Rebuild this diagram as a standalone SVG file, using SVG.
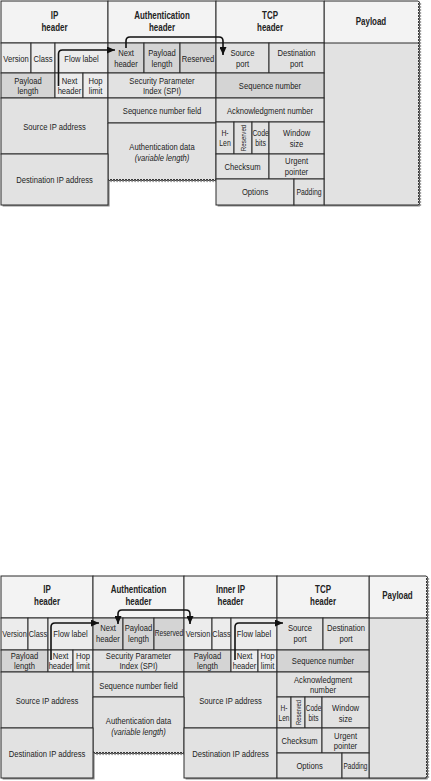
<svg xmlns="http://www.w3.org/2000/svg" xmlns:xlink="http://www.w3.org/1999/xlink" width="431" height="781" viewBox="0 0 431 781">
<style>
.t{font-family:"Liberation Sans",Arial,sans-serif;font-size:9.8px;fill:#222;text-anchor:middle;transform-box:fill-box;transform-origin:center;transform:scaleX(0.78)}
.tr{font-family:"Liberation Sans",Arial,sans-serif;fill:#222;text-anchor:middle}
.b{font-weight:bold;font-size:10.2px}
.s{font-size:8.8px}
.i{font-style:italic}
rect,.cp{stroke:#2b2b2b;stroke-width:1}
.h{fill:#f3f3f3}.c{fill:#e2e2e2}.d{fill:#d4d4d4}.l{fill:#ececec}
.ar{fill:none;stroke:#111;stroke-width:1.6}
.sh{fill:#8c8c8c}
</style>
<defs>
<marker id="ah" viewBox="0 0 8 7" refX="8" refY="3.5" markerWidth="8" markerHeight="7" markerUnits="userSpaceOnUse" orient="auto-start-reverse"><path d="M0,0 L8,3.5 L0,7 z" fill="#111"/></marker>
<linearGradient id="gp1" gradientUnits="userSpaceOnUse" x1="0" y1="1" x2="0" y2="205"><stop offset="0" stop-color="#f3f3f3"/><stop offset="0.2059" stop-color="#f3f3f3"/><stop offset="0.2059" stop-color="#e2e2e2"/><stop offset="1" stop-color="#e2e2e2"/></linearGradient>
<linearGradient id="gp2" gradientUnits="userSpaceOnUse" x1="0" y1="576" x2="0" y2="778"><stop offset="0" stop-color="#f3f3f3"/><stop offset="0.2079" stop-color="#f3f3f3"/><stop offset="0.2079" stop-color="#e2e2e2"/><stop offset="1" stop-color="#e2e2e2"/></linearGradient>
<path id="out1" d="M1,1 H418 l2,1.5l-2,1.5l2,1.5l-2,1.5l2,1.5l-2,1.5l2,1.5l-2,1.5l2,1.5l-2,1.5l2,1.5l-2,1.5l2,1.5l-2,1.5l2,1.5l-2,1.5l2,1.5l-2,1.5l2,1.5l-2,1.5 l2,1.5l-2,1.5l2,1.5l-2,1.5l2,1.5l-2,1.5l2,1.5l-2,1.5l2,1.5l-2,1.5l2,1.5l-2,1.5l2,1.5l-2,1.5l2,1.5l-2,1.5l2,1.5l-2,1.5l2,1.5l-2,1.5 l2,1.5l-2,1.5l2,1.5l-2,1.5l2,1.5l-2,1.5l2,1.5l-2,1.5l2,1.5l-2,1.5l2,1.5l-2,1.5l2,1.5l-2,1.5l2,1.5l-2,1.5l2,1.5l-2,1.5l2,1.5l-2,1.5 l2,1.5l-2,1.5l2,1.5l-2,1.5l2,1.5l-2,1.5l2,1.5l-2,1.5l2,1.5l-2,1.5l2,1.5l-2,1.5l2,1.5l-2,1.5l2,1.5l-2,1.5l2,1.5l-2,1.5l2,1.5l-2,1.5 l2,1.5l-2,1.5l2,1.5l-2,1.5l2,1.5l-2,1.5l2,1.5l-2,1.5l2,1.5l-2,1.5l2,1.5l-2,1.5l2,1.5l-2,1.5l2,1.5l-2,1.5l2,1.5l-2,1.5l2,1.5l-2,1.5 l2,1.5l-2,1.5l2,1.5l-2,1.5l2,1.5l-2,1.5l2,1.5l-2,1.5l2,1.5l-2,1.5l2,1.5l-2,1.5l2,1.5l-2,1.5l2,1.5l-2,1.5l2,1.5l-2,1.5l2,1.5l-2,1.5 l2,1.5l-2,1.5l2,1.5l-2,1.5l2,1.5l-2,1.5l2,1.5l-2,1.5l2,1.5l-2,1.5l2,1.5l-2,1.5l2,1.5l-2,1.5l2,1.5l-2,1.5 V205 H216 V179 l-1.5,2l-1.5,-2l-1.5,2l-1.5,-2l-1.5,2l-1.5,-2l-1.5,2l-1.5,-2l-1.5,2l-1.5,-2l-1.5,2l-1.5,-2l-1.5,2l-1.5,-2l-1.5,2l-1.5,-2l-1.5,2l-1.5,-2l-1.5,2l-1.5,-2 l-1.5,2l-1.5,-2l-1.5,2l-1.5,-2l-1.5,2l-1.5,-2l-1.5,2l-1.5,-2l-1.5,2l-1.5,-2l-1.5,2l-1.5,-2l-1.5,2l-1.5,-2l-1.5,2l-1.5,-2l-1.5,2l-1.5,-2l-1.5,2l-1.5,-2 l-1.5,2l-1.5,-2l-1.5,2l-1.5,-2l-1.5,2l-1.5,-2l-1.5,2l-1.5,-2l-1.5,2l-1.5,-2l-1.5,2l-1.5,-2l-1.5,2l-1.5,-2l-1.5,2l-1.5,-2l-1.5,2l-1.5,-2l-1.5,2l-1.5,-2 l-1.5,2l-1.5,-2l-1.5,2l-1.5,-2l-1.5,2l-1.5,-2l-1.5,2l-1.5,-2l-1.5,2l-1.5,-2l-1.5,2l-1.5,-2 H108 V205 H1 Z"/>
<path id="out2" d="M1,576 H426 l2,1.5l-2,1.5l2,1.5l-2,1.5l2,1.5l-2,1.5l2,1.5l-2,1.5l2,1.5l-2,1.5l2,1.5l-2,1.5l2,1.5l-2,1.5l2,1.5l-2,1.5l2,1.5l-2,1.5l2,1.5l-2,1.5 l2,1.5l-2,1.5l2,1.5l-2,1.5l2,1.5l-2,1.5l2,1.5l-2,1.5l2,1.5l-2,1.5l2,1.5l-2,1.5l2,1.5l-2,1.5l2,1.5l-2,1.5l2,1.5l-2,1.5l2,1.5l-2,1.5 l2,1.5l-2,1.5l2,1.5l-2,1.5l2,1.5l-2,1.5l2,1.5l-2,1.5l2,1.5l-2,1.5l2,1.5l-2,1.5l2,1.5l-2,1.5l2,1.5l-2,1.5l2,1.5l-2,1.5l2,1.5l-2,1.5 l2,1.5l-2,1.5l2,1.5l-2,1.5l2,1.5l-2,1.5l2,1.5l-2,1.5l2,1.5l-2,1.5l2,1.5l-2,1.5l2,1.5l-2,1.5l2,1.5l-2,1.5l2,1.5l-2,1.5l2,1.5l-2,1.5 l2,1.5l-2,1.5l2,1.5l-2,1.5l2,1.5l-2,1.5l2,1.5l-2,1.5l2,1.5l-2,1.5l2,1.5l-2,1.5l2,1.5l-2,1.5l2,1.5l-2,1.5l2,1.5l-2,1.5l2,1.5l-2,1.5 l2,1.5l-2,1.5l2,1.5l-2,1.5l2,1.5l-2,1.5l2,1.5l-2,1.5l2,1.5l-2,1.5l2,1.5l-2,1.5l2,1.5l-2,1.5l2,1.5l-2,1.5l2,1.5l-2,1.5l2,1.5l-2,1.5 l2,1.5l-2,1.5l2,1.5l-2,1.5l2,1.5l-2,1.5l2,1.5l-2,1.5l2,1.5l-2,1.5l2,1.5l-2,1.5l2,1.5l-2,1.5 V778 H184 V752 l-1.5,2l-1.5,-2l-1.5,2l-1.5,-2l-1.5,2l-1.5,-2l-1.5,2l-1.5,-2l-1.5,2l-1.5,-2l-1.5,2l-1.5,-2l-1.5,2l-1.5,-2l-1.5,2l-1.5,-2l-1.5,2l-1.5,-2l-1.5,2l-1.5,-2 l-1.5,2l-1.5,-2l-1.5,2l-1.5,-2l-1.5,2l-1.5,-2l-1.5,2l-1.5,-2l-1.5,2l-1.5,-2l-1.5,2l-1.5,-2l-1.5,2l-1.5,-2l-1.5,2l-1.5,-2l-1.5,2l-1.5,-2l-1.5,2l-1.5,-2 l-1.5,2l-1.5,-2l-1.5,2l-1.5,-2l-1.5,2l-1.5,-2l-1.5,2l-1.5,-2l-1.5,2l-1.5,-2l-1.5,2l-1.5,-2l-1.5,2l-1.5,-2l-1.5,2l-1.5,-2l-1.5,2l-1.5,-2l-1.5,2l-1.5,-2 H93 V778 H1 Z"/>
</defs>

<!-- ===== Transport mode (top) ===== -->
<use xlink:href="#out1" href="#out1" class="sh" transform="translate(1.6,1.6)"/>
<g id="t-payload"><path class="cp" fill="url(#gp1)" d="M324,1 H418 l2,1.5l-2,1.5l2,1.5l-2,1.5l2,1.5l-2,1.5l2,1.5l-2,1.5l2,1.5l-2,1.5l2,1.5l-2,1.5l2,1.5l-2,1.5l2,1.5l-2,1.5l2,1.5l-2,1.5l2,1.5l-2,1.5 l2,1.5l-2,1.5l2,1.5l-2,1.5l2,1.5l-2,1.5l2,1.5l-2,1.5l2,1.5l-2,1.5l2,1.5l-2,1.5l2,1.5l-2,1.5l2,1.5l-2,1.5l2,1.5l-2,1.5l2,1.5l-2,1.5 l2,1.5l-2,1.5l2,1.5l-2,1.5l2,1.5l-2,1.5l2,1.5l-2,1.5l2,1.5l-2,1.5l2,1.5l-2,1.5l2,1.5l-2,1.5l2,1.5l-2,1.5l2,1.5l-2,1.5l2,1.5l-2,1.5 l2,1.5l-2,1.5l2,1.5l-2,1.5l2,1.5l-2,1.5l2,1.5l-2,1.5l2,1.5l-2,1.5l2,1.5l-2,1.5l2,1.5l-2,1.5l2,1.5l-2,1.5l2,1.5l-2,1.5l2,1.5l-2,1.5 l2,1.5l-2,1.5l2,1.5l-2,1.5l2,1.5l-2,1.5l2,1.5l-2,1.5l2,1.5l-2,1.5l2,1.5l-2,1.5l2,1.5l-2,1.5l2,1.5l-2,1.5l2,1.5l-2,1.5l2,1.5l-2,1.5 l2,1.5l-2,1.5l2,1.5l-2,1.5l2,1.5l-2,1.5l2,1.5l-2,1.5l2,1.5l-2,1.5l2,1.5l-2,1.5l2,1.5l-2,1.5l2,1.5l-2,1.5l2,1.5l-2,1.5l2,1.5l-2,1.5 l2,1.5l-2,1.5l2,1.5l-2,1.5l2,1.5l-2,1.5l2,1.5l-2,1.5l2,1.5l-2,1.5l2,1.5l-2,1.5l2,1.5l-2,1.5l2,1.5l-2,1.5 V205 H324 Z"/><line class="cp" x1="324" y1="43" x2="419" y2="43"/><text class="t b" x="371" y="25.5">Payload</text></g>
<g id="t-ip-hdr"><rect class="h" x="1" y="1" width="107" height="42"/><text class="t b" x="54.5" y="19">IP</text><text class="t b" x="54.5" y="31">header</text></g>
<g id="t-ah-hdr"><rect class="h" x="108" y="1" width="108" height="42"/><text class="t b" x="162" y="19">Authentication</text><text class="t b" x="162" y="31">header</text></g>
<g id="t-tcp-hdr"><rect class="h" x="216" y="1" width="108" height="42"/><text class="t b" x="270" y="19">TCP</text><text class="t b" x="270" y="31">header</text></g>

<g id="t-version"><rect class="l" x="1" y="43" width="30" height="30"/><text class="t" x="16" y="62">Version</text></g>
<g id="t-class"><rect class="l" x="31" y="43" width="24" height="30"/><text class="t" x="43" y="62">Class</text></g>
<g id="t-flow"><rect class="l" x="55" y="43" width="53" height="30"/><text class="t" x="81.5" y="62">Flow label</text></g>
<g id="t-ah-next"><rect class="d" x="108" y="43" width="36" height="30"/><text class="t" x="126" y="56.5">Next</text><text class="t" x="126" y="67.5">header</text></g>
<g id="t-ah-plen"><rect class="d" x="144" y="43" width="36" height="30"/><text class="t" x="162" y="56.5">Payload</text><text class="t" x="162" y="67.5">length</text></g>
<g id="t-ah-res"><rect class="d" x="180" y="43" width="36" height="30"/><text class="t" x="198" y="62">Reserved</text></g>
<g id="t-sport"><rect class="c" x="216" y="43" width="53" height="30"/><text class="t" x="242.5" y="56.5">Source</text><text class="t" x="242.5" y="67.5">port</text></g>
<g id="t-dport"><rect class="c" x="269" y="43" width="55" height="30"/><text class="t" x="296.5" y="56.5">Destination</text><text class="t" x="296.5" y="67.5">port</text></g>

<g id="t-ip-plen"><rect class="d" x="1" y="73" width="54" height="25"/><text class="t" x="28" y="84.5">Payload</text><text class="t" x="28" y="94.5">length</text></g>
<g id="t-ip-next"><rect class="l" x="55" y="73" width="28" height="25"/><text class="t" x="69.5" y="84.5">Next</text><text class="t" x="69.5" y="94.5">header</text></g>
<g id="t-hop"><rect class="l" x="83" y="73" width="25" height="25"/><text class="t" x="95.5" y="84.5">Hop</text><text class="t" x="95.5" y="94.5">limit</text></g>
<g id="t-spi"><rect class="c" x="108" y="73" width="108" height="25"/><text class="t" x="162" y="84.5">Security Parameter</text><text class="t" x="162" y="94.5">Index (SPI)</text></g>
<g id="t-seq"><rect class="d" x="216" y="73" width="108" height="25"/><text class="t" x="270" y="89">Sequence number</text></g>

<g id="t-src"><rect class="c" x="1" y="98" width="107" height="56"/><text class="t" x="54.5" y="130">Source IP address</text></g>
<g id="t-seqf"><rect class="c" x="108" y="98" width="108" height="25"/><text class="t" x="162" y="114">Sequence number field</text></g>
<g id="t-ack"><rect class="c" x="216" y="98" width="108" height="24"/><text class="t" x="270" y="114">Acknowledgment number</text></g>
<g id="t-authdata"><path class="cp c" d="M108,123 H216 V179 l-1.5,2l-1.5,-2l-1.5,2l-1.5,-2l-1.5,2l-1.5,-2l-1.5,2l-1.5,-2l-1.5,2l-1.5,-2l-1.5,2l-1.5,-2l-1.5,2l-1.5,-2l-1.5,2l-1.5,-2l-1.5,2l-1.5,-2l-1.5,2l-1.5,-2 l-1.5,2l-1.5,-2l-1.5,2l-1.5,-2l-1.5,2l-1.5,-2l-1.5,2l-1.5,-2l-1.5,2l-1.5,-2l-1.5,2l-1.5,-2l-1.5,2l-1.5,-2l-1.5,2l-1.5,-2l-1.5,2l-1.5,-2l-1.5,2l-1.5,-2 l-1.5,2l-1.5,-2l-1.5,2l-1.5,-2l-1.5,2l-1.5,-2l-1.5,2l-1.5,-2l-1.5,2l-1.5,-2l-1.5,2l-1.5,-2l-1.5,2l-1.5,-2l-1.5,2l-1.5,-2l-1.5,2l-1.5,-2l-1.5,2l-1.5,-2 l-1.5,2l-1.5,-2l-1.5,2l-1.5,-2l-1.5,2l-1.5,-2l-1.5,2l-1.5,-2l-1.5,2l-1.5,-2l-1.5,2l-1.5,-2 H108 Z"/><text class="t" x="162" y="150.5">Authentication data</text><text class="t i" x="162" y="161.5">(variable length)</text></g>
<g id="t-hlen"><rect class="c" x="216" y="122" width="18" height="32"/><text class="t s" x="225" y="136.5">H-</text><text class="t s" x="225" y="146.5">Len</text></g>
<g id="t-tres"><rect class="c" x="234" y="122" width="18" height="32"/><text class="tr" style="font-size:8px" transform="translate(245.7,138) rotate(-90) scale(0.78,1)">Reserved</text></g>
<g id="t-code"><rect class="c" x="252" y="122" width="17" height="32"/><text class="t s" x="260.5" y="136.5">Code</text><text class="t s" x="260.5" y="146.5">bits</text></g>
<g id="t-win"><rect class="c" x="269" y="122" width="55" height="32"/><text class="t" x="296.5" y="136.5">Window</text><text class="t" x="296.5" y="147">size</text></g>
<g id="t-dst"><rect class="c" x="1" y="154" width="107" height="51"/><text class="t" x="54.5" y="183.5">Destination IP address</text></g>
<g id="t-csum"><rect class="c" x="216" y="154" width="53" height="25"/><text class="t" x="242.5" y="170">Checksum</text></g>
<g id="t-urg"><rect class="c" x="269" y="154" width="55" height="25"/><text class="t" x="296.5" y="164.5">Urgent</text><text class="t" x="296.5" y="175">pointer</text></g>
<g id="t-opt"><rect class="c" x="216" y="179" width="78" height="26"/><text class="t" x="255" y="195.5">Options</text></g>
<g id="t-pad"><rect class="c" x="294" y="179" width="30" height="26"/><text class="t s" x="309" y="195.5">Padding</text></g>

<g id="t-connectors">
<path class="ar" marker-end="url(#ah)" d="M58.5,86 V54 Q58.5,50 62.5,50 H115"/>
<path class="ar" marker-end="url(#ah)" d="M126,48 V41 Q126,37 130,37 H219 Q223,37 223,41 V55"/>
</g>

<!-- ===== Tunnel mode (bottom) ===== -->
<use xlink:href="#out2" href="#out2" class="sh" transform="translate(1.6,1.6)"/>
<g id="b-payload"><path class="cp" fill="url(#gp2)" d="M369,576 H426 l2,1.5l-2,1.5l2,1.5l-2,1.5l2,1.5l-2,1.5l2,1.5l-2,1.5l2,1.5l-2,1.5l2,1.5l-2,1.5l2,1.5l-2,1.5l2,1.5l-2,1.5l2,1.5l-2,1.5l2,1.5l-2,1.5 l2,1.5l-2,1.5l2,1.5l-2,1.5l2,1.5l-2,1.5l2,1.5l-2,1.5l2,1.5l-2,1.5l2,1.5l-2,1.5l2,1.5l-2,1.5l2,1.5l-2,1.5l2,1.5l-2,1.5l2,1.5l-2,1.5 l2,1.5l-2,1.5l2,1.5l-2,1.5l2,1.5l-2,1.5l2,1.5l-2,1.5l2,1.5l-2,1.5l2,1.5l-2,1.5l2,1.5l-2,1.5l2,1.5l-2,1.5l2,1.5l-2,1.5l2,1.5l-2,1.5 l2,1.5l-2,1.5l2,1.5l-2,1.5l2,1.5l-2,1.5l2,1.5l-2,1.5l2,1.5l-2,1.5l2,1.5l-2,1.5l2,1.5l-2,1.5l2,1.5l-2,1.5l2,1.5l-2,1.5l2,1.5l-2,1.5 l2,1.5l-2,1.5l2,1.5l-2,1.5l2,1.5l-2,1.5l2,1.5l-2,1.5l2,1.5l-2,1.5l2,1.5l-2,1.5l2,1.5l-2,1.5l2,1.5l-2,1.5l2,1.5l-2,1.5l2,1.5l-2,1.5 l2,1.5l-2,1.5l2,1.5l-2,1.5l2,1.5l-2,1.5l2,1.5l-2,1.5l2,1.5l-2,1.5l2,1.5l-2,1.5l2,1.5l-2,1.5l2,1.5l-2,1.5l2,1.5l-2,1.5l2,1.5l-2,1.5 l2,1.5l-2,1.5l2,1.5l-2,1.5l2,1.5l-2,1.5l2,1.5l-2,1.5l2,1.5l-2,1.5l2,1.5l-2,1.5l2,1.5l-2,1.5 V778 H369 Z"/><line class="cp" x1="369" y1="618" x2="427" y2="618"/><text class="t b" x="397.5" y="599.5">Payload</text></g>
<g id="b-ip-hdr"><rect class="h" x="1" y="576" width="92" height="42"/><text class="t b" x="47" y="593.5">IP</text><text class="t b" x="47" y="605.5">header</text></g>
<g id="b-ah-hdr"><rect class="h" x="93" y="576" width="91" height="42"/><text class="t b" x="138.5" y="593.5">Authentication</text><text class="t b" x="138.5" y="605.5">header</text></g>
<g id="b-iip-hdr"><rect class="h" x="184" y="576" width="93" height="42"/><text class="t b" x="230.5" y="593.5">Inner IP</text><text class="t b" x="230.5" y="605.5">header</text></g>
<g id="b-tcp-hdr"><rect class="h" x="277" y="576" width="92" height="42"/><text class="t b" x="323" y="593.5">TCP</text><text class="t b" x="323" y="605.5">header</text></g>

<g id="b-version"><rect class="l" x="1" y="618" width="27" height="32"/><text class="t" x="14.5" y="637" style="font-size:9.4px">Version</text></g>
<g id="b-class"><rect class="l" x="28" y="618" width="20" height="32"/><text class="t" x="38" y="637" style="font-size:9.4px">Class</text></g>
<g id="b-flow"><rect class="l" x="48" y="618" width="45" height="32"/><text class="t" x="70.5" y="637">Flow label</text></g>
<g id="b-ah-next"><rect class="d" x="93" y="618" width="30" height="32"/><text class="t" x="108" y="631.5">Next</text><text class="t" x="108" y="642.5">header</text></g>
<g id="b-ah-plen"><rect class="d" x="123" y="618" width="31" height="32"/><text class="t" x="138.5" y="631.5">Payload</text><text class="t" x="138.5" y="642.5">length</text></g>
<g id="b-ah-res"><rect class="d" x="154" y="618" width="30" height="32"/><text class="t" x="169" y="636.5" style="font-size:8.5px">Reserved</text></g>
<g id="b-iversion"><rect class="l" x="184" y="618" width="28" height="32"/><text class="t" x="198" y="637" style="font-size:9.4px">Version</text></g>
<g id="b-iclass"><rect class="l" x="212" y="618" width="19" height="32"/><text class="t" x="221.5" y="637" style="font-size:9.4px">Class</text></g>
<g id="b-iflow"><rect class="l" x="231" y="618" width="46" height="32"/><text class="t" x="254" y="637">Flow label</text></g>
<g id="b-sport"><rect class="c" x="277" y="618" width="46" height="32"/><text class="t" x="300" y="631.5">Source</text><text class="t" x="300" y="642.5">port</text></g>
<g id="b-dport"><rect class="c" x="323" y="618" width="46" height="32"/><text class="t" x="346" y="631.5">Destination</text><text class="t" x="346" y="642.5">port</text></g>

<g id="b-ip-plen"><rect class="d" x="1" y="650" width="47" height="22"/><text class="t" x="24.5" y="659">Payload</text><text class="t" x="24.5" y="669">length</text></g>
<g id="b-ip-next"><rect class="l" x="48" y="650" width="25" height="22"/><text class="t" x="60.5" y="659">Next</text><text class="t" x="60.5" y="669">header</text></g>
<g id="b-hop"><rect class="l" x="73" y="650" width="20" height="22"/><text class="t" x="83" y="659">Hop</text><text class="t" x="83" y="669">limit</text></g>
<g id="b-spi"><rect class="c" x="93" y="650" width="91" height="22"/><text class="t" x="138.5" y="659">Security Parameter</text><text class="t" x="138.5" y="669">Index (SPI)</text></g>
<g id="b-iplen"><rect class="d" x="184" y="650" width="47" height="22"/><text class="t" x="207.5" y="659">Payload</text><text class="t" x="207.5" y="669">length</text></g>
<g id="b-inext"><rect class="l" x="231" y="650" width="27" height="22"/><text class="t" x="244.5" y="659">Next</text><text class="t" x="244.5" y="669">header</text></g>
<g id="b-ihop"><rect class="l" x="258" y="650" width="19" height="22"/><text class="t" x="267.5" y="659">Hop</text><text class="t" x="267.5" y="669">limit</text></g>
<g id="b-seq"><rect class="d" x="277" y="650" width="92" height="22"/><text class="t" x="323" y="664.5">Sequence number</text></g>

<g id="b-src"><rect class="c" x="1" y="672" width="92" height="56"/><text class="t" x="47" y="704.5">Source IP address</text></g>
<g id="b-seqf"><rect class="c" x="93" y="672" width="91" height="25"/><text class="t" x="138.5" y="689">Sequence number field</text></g>
<g id="b-isrc"><rect class="c" x="184" y="672" width="93" height="56"/><text class="t" x="230.5" y="704.5">Source IP address</text></g>
<g id="b-ack"><rect class="c" x="277" y="672" width="92" height="25"/><text class="t" x="323" y="683">Acknowledgment</text><text class="t" x="323" y="693.5">number</text></g>
<g id="b-authdata"><path class="cp c" d="M93,697 H184 V752 l-1.5,2l-1.5,-2l-1.5,2l-1.5,-2l-1.5,2l-1.5,-2l-1.5,2l-1.5,-2l-1.5,2l-1.5,-2l-1.5,2l-1.5,-2l-1.5,2l-1.5,-2l-1.5,2l-1.5,-2l-1.5,2l-1.5,-2l-1.5,2l-1.5,-2 l-1.5,2l-1.5,-2l-1.5,2l-1.5,-2l-1.5,2l-1.5,-2l-1.5,2l-1.5,-2l-1.5,2l-1.5,-2l-1.5,2l-1.5,-2l-1.5,2l-1.5,-2l-1.5,2l-1.5,-2l-1.5,2l-1.5,-2l-1.5,2l-1.5,-2 l-1.5,2l-1.5,-2l-1.5,2l-1.5,-2l-1.5,2l-1.5,-2l-1.5,2l-1.5,-2l-1.5,2l-1.5,-2l-1.5,2l-1.5,-2l-1.5,2l-1.5,-2l-1.5,2l-1.5,-2l-1.5,2l-1.5,-2l-1.5,2l-1.5,-2 H93 Z"/><text class="t" x="138.5" y="724.5">Authentication data</text><text class="t i" x="138.5" y="735.5">(variable length)</text></g>
<g id="b-hlen"><rect class="c" x="277" y="697" width="14" height="31"/><text class="t" x="284" y="711.5" style="font-size:8.4px">H-</text><text class="t" x="284" y="721.5" style="font-size:8.4px">Len</text></g>
<g id="b-tres"><rect class="c" x="291" y="697" width="14" height="31"/><text class="tr" style="font-size:7.5px" transform="translate(300.7,712.5) rotate(-90) scale(0.78,1)">Reserved</text></g>
<g id="b-code"><rect class="c" x="305" y="697" width="17" height="31"/><text class="t" x="313.5" y="711.5" style="font-size:8.4px">Code</text><text class="t" x="313.5" y="721.5" style="font-size:8.4px">bits</text></g>
<g id="b-win"><rect class="c" x="322" y="697" width="47" height="31"/><text class="t" x="345.5" y="711.5">Window</text><text class="t" x="345.5" y="722">size</text></g>
<g id="b-dst"><rect class="c" x="1" y="728" width="92" height="50"/><text class="t" x="47" y="757.5">Destination IP address</text></g>
<g id="b-idst"><rect class="c" x="184" y="728" width="93" height="50"/><text class="t" x="230.5" y="757.5">Destination IP address</text></g>
<g id="b-csum"><rect class="c" x="277" y="728" width="45" height="25"/><text class="t" x="299.5" y="744">Checksum</text></g>
<g id="b-urg"><rect class="c" x="322" y="728" width="47" height="25"/><text class="t" x="345.5" y="739">Urgent</text><text class="t" x="345.5" y="749.5">pointer</text></g>
<g id="b-opt"><rect class="c" x="277" y="753" width="65" height="25"/><text class="t" x="309.5" y="769">Options</text></g>
<g id="b-pad"><rect class="c" x="342" y="753" width="27" height="25"/><text class="t" x="355.5" y="769" style="font-size:8.4px">Padding</text></g>

<g id="b-connectors">
<path class="ar" marker-end="url(#ah)" d="M51,660 V627 Q51,623 55,623 H99"/>
<path class="ar" marker-start="url(#ah)" marker-end="url(#ah)" d="M118,624 V614 Q118,610 122,610 H186 Q190,610 190,614 V624"/>
<path class="ar" marker-end="url(#ah)" d="M235,660 V627 Q235,623 239,623 H283"/>
</g>
</svg>
